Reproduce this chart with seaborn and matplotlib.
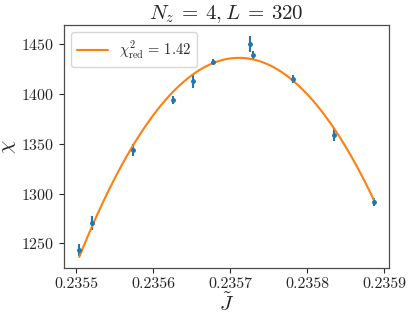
import numpy as np
import pandas as pd
import matplotlib
matplotlib.use("Agg")
import matplotlib.pyplot as plt
import seaborn as sns

J_vals = [0.235504, 0.235521, 0.235574, 0.235626, 0.235652, 0.235678,
          0.235726, 0.235730, 0.235782, 0.235835, 0.235887]
chi_vals = [1243.3, 1270.7, 1344.0, 1394.3, 1412.4, 1432.0,
            1450.0, 1439.0, 1415.0, 1359.0, 1291.6]
chi_err = [6, 7, 6, 4, 7, 3, 8, 4, 4, 6, 4]
chi2_red = 1.42

sns.set_theme(style="ticks")
plt.rcParams["font.family"] = ["serif"]
plt.rcParams["font.serif"] = ["cmr10", "DejaVu Serif"]
plt.rcParams["mathtext.fontset"] = "cm"
plt.rcParams["axes.formatter.use_mathtext"] = True

df = pd.DataFrame({"J": J_vals, "chi": chi_vals, "err": chi_err})

# weighted quadratic fit, as in the original analysis
coef = np.polyfit(df["J"], df["chi"], 2, w=1 / df["err"])
J_fit = np.linspace(min(J_vals), max(J_vals), 200)
fit = pd.DataFrame({"J": J_fit, "chi": np.polyval(coef, J_fit)})

fig, ax = plt.subplots(figsize=(4.12, 3.17), dpi=100)
ax.errorbar(df["J"], df["chi"], yerr=df["err"], fmt=".", color="#1f77b4",
            markersize=5, elinewidth=1.5)
sns.lineplot(data=fit, x="J", y="chi", color="#ff7f0e", linewidth=1.5, ax=ax,
             label=r"$\chi^2_{\rm red}\,=\,%.2f$" % chi2_red)

ax.set_xlim(0.235484, 0.235906)
ax.set_ylim(1225.5, 1469)
ax.set_xticks([0.2355, 0.2356, 0.2357, 0.2358, 0.2359])
ax.set_xticklabels(["0.2355", "0.2356", "0.2357", "0.2358", "0.2359"])
ax.set_yticks([1250, 1300, 1350, 1400, 1450])
ax.tick_params(labelsize=11.5, length=3.5, width=0.8, colors="0.15")
for s in ax.spines.values():
    s.set_color("0.3")
    s.set_linewidth(0.9)

ax.set_xlabel(r"$\tilde{J}$", fontsize=15, labelpad=1)
ax.set_ylabel(r"$\chi$", fontsize=15, labelpad=2)
ax.set_title(r"$N_z\:=\:4,L\:=\:320$", fontsize=15, pad=4)
ax.legend(loc="upper left", fontsize=10.5, frameon=True, handlelength=2.1)

fig.subplots_adjust(left=0.155, right=0.944, top=0.921, bottom=0.155)
fig.savefig("out.png", dpi=100)
